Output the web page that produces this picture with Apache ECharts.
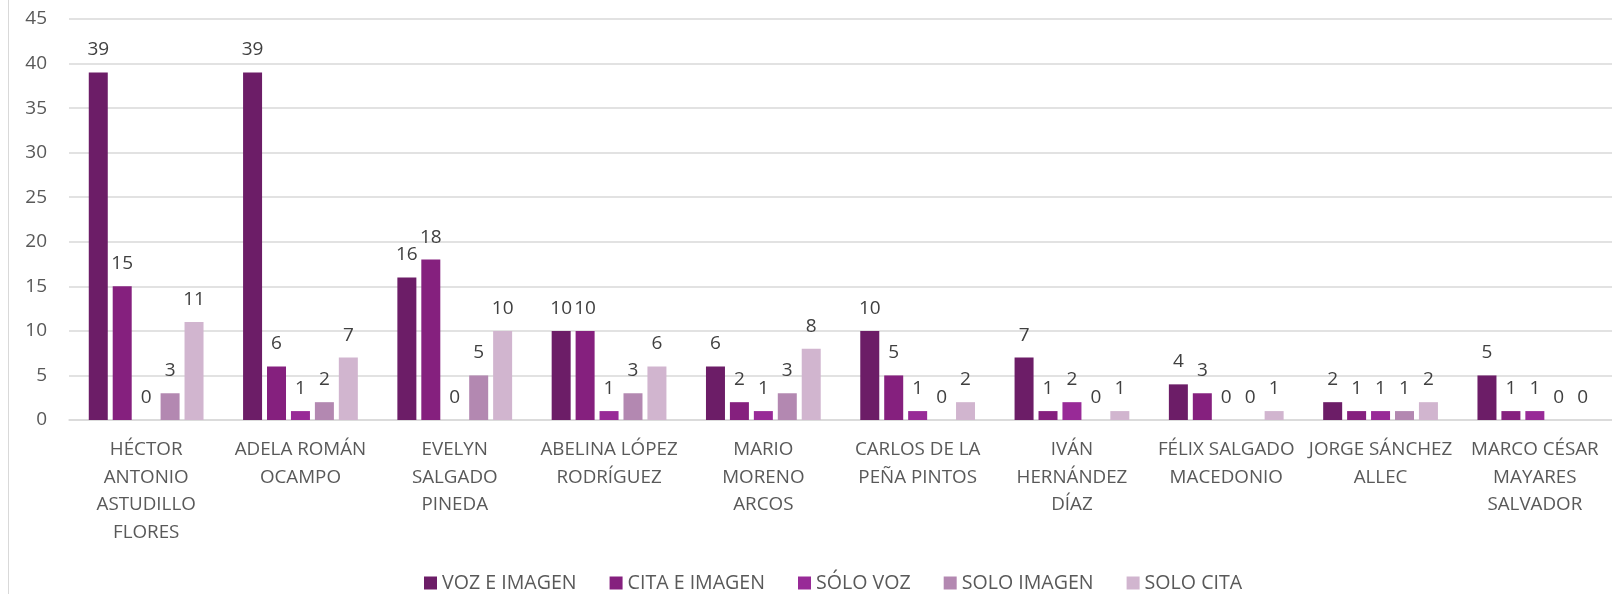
<!DOCTYPE html>
<html>
<head>
<meta charset="utf-8">
<script src="https://cdn.jsdelivr.net/npm/echarts@6/dist/echarts.min.js"></script>
<style>
  html, body { margin: 0; padding: 0; background: #ffffff; }
  #chart { width: 1612px; height: 594px; }
</style>
</head>
<body>
<div id="chart"></div>
<script>
// Candidate names (wrapped as they appear under the axis)
const categories = [
  'HÉCTOR\nANTONIO\nASTUDILLO\nFLORES',
  'ADELA ROMÁN\nOCAMPO',
  'EVELYN\nSALGADO\nPINEDA',
  'ABELINA LÓPEZ\nRODRÍGUEZ',
  'MARIO\nMORENO\nARCOS',
  'CARLOS DE LA\nPEÑA PINTOS',
  'IVÁN\nHERNÁNDEZ\nDÍAZ',
  'FÉLIX SALGADO\nMACEDONIO',
  'JORGE SÁNCHEZ\nALLEC',
  'MARCO CÉSAR\nMAYARES\nSALVADOR'
];

const seriesNames = ['VOZ E IMAGEN', 'CITA E IMAGEN', 'SÓLO VOZ', 'SOLO IMAGEN', 'SOLO CITA'];

const vozImagen  = [39, 39, 16, 10, 6, 10, 7, 4, 2, 5];
const citaImagen = [15, 6, 18, 10, 2, 5, 1, 3, 1, 1];
const soloVoz    = [0, 1, 0, 1, 1, 1, 2, 0, 1, 1];
const soloImagen = [3, 2, 5, 3, 3, 0, 0, 0, 1, 0];
const soloCita   = [11, 7, 10, 6, 8, 2, 1, 1, 2, 0];

const yTicks = { min: 0, max: 45, interval: 5 };

const colors = ['#6c1d67', '#85207e', '#982a97', '#b388b1', '#d1b5cf'];
const seriesData = [vozImagen, citaImagen, soloVoz, soloImagen, soloCita];

const textColor = '#595959';
const fontFamily = '"Open Sans", sans-serif';
const fontSize = 18.8;

const chart = echarts.init(document.getElementById('chart'));

chart.setOption({
  animation: false,
  backgroundColor: '#ffffff',
  color: colors,
  graphic: [{
    type: 'line',
    shape: { x1: 8.5, y1: 0, x2: 8.5, y2: 594 },
    style: { stroke: '#d9d9d9', lineWidth: 1 }
  }],
  legend: {
    top: 568,
    left: 419,
    itemWidth: 13,
    itemHeight: 13,
    itemGap: 33,
    icon: 'rect',
    textStyle: {
      color: textColor,
      fontSize: 19.6,
      fontFamily: fontFamily
    },
    data: seriesNames
  },
  grid: { left: 69, right: 0, top: 19, bottom: 174, containLabel: false },
  xAxis: {
    type: 'category',
    data: categories,
    axisLine: { lineStyle: { color: '#d9d9d9', width: 1.5 } },
    axisTick: { show: false },
    axisLabel: {
      interval: 0,
      margin: 16,
      color: textColor,
      fontSize: fontSize,
      lineHeight: 27.5,
      fontFamily: fontFamily
    }
  },
  yAxis: {
    type: 'value',
    min: yTicks.min,
    max: yTicks.max,
    interval: yTicks.interval,
    axisLine: { show: false },
    axisTick: { show: false },
    splitLine: { lineStyle: { color: '#d9d9d9', width: 1.5 } },
    axisLabel: {
      margin: 22,
      color: textColor,
      fontSize: 19,
      fontFamily: fontFamily
    }
  },
  series: seriesNames.map((name, i) => ({
    name: name,
    type: 'bar',
    data: seriesData[i],
    barWidth: 19,
    barGap: '26%',
    itemStyle: { color: colors[i] },
    label: {
      show: true,
      position: 'top',
      distance: 13,
      color: '#404040',
      fontSize: 19,
      fontFamily: fontFamily
    }
  }))
});
</script>
</body>
</html>
